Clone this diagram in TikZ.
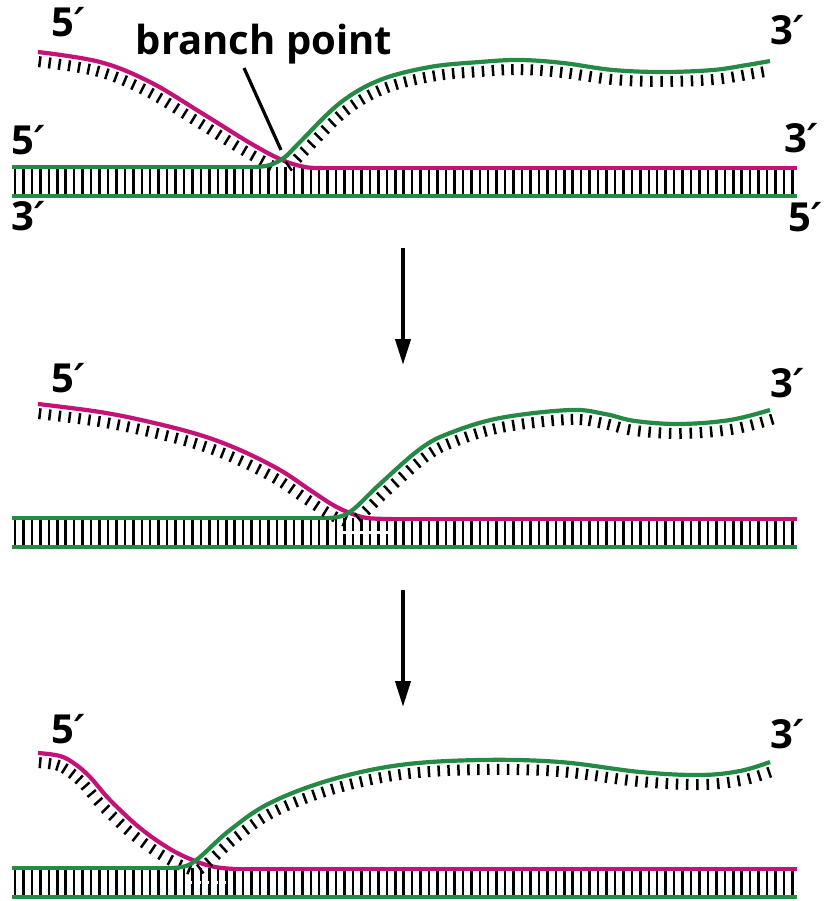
\documentclass[tikz,border=0pt]{standalone}
\usepackage{fontspec}
\setmainfont{Open Sans}
\newfontfamily\primefont{DejaVu Sans}
\usepackage{tikz}
\usetikzlibrary{arrows.meta}
\usetikzlibrary{decorations.markings}
\definecolor{strandgreen}{RGB}{36,138,70}
\definecolor{strandpink}{RGB}{196,18,120}
\newcommand{\pr}{{\primefont\itshape ′}}

\begin{document}
\begin{tikzpicture}
[x=1pt,y=-1pt,
  greendecorate/.style={draw=strandgreen,line width=4.2pt},
  pinkdecorate/.style={draw=strandpink,line width=4.2pt},
  rungdecorate/.style={black,line width=2.5pt},
  tickdecorate/.style 2 args={postaction={decorate},decoration={markings,
    mark=between positions #1 and #2 step 10pt with
    {\draw[black,line width=2.5pt] (0,-4pt) -- (0,-15pt);}}},
  labeldecorate/.style={font=\fontsize{40}{44}\selectfont\bfseries,
    inner sep=0pt},
  arrowdecorate/.style={line width=4pt,-{Triangle[length=26pt,width=15pt]}}]
\useasboundingbox (0,0) rectangle (825,901);

%% double helix parts: rungs, bottom strand, top strand halves
\foreach \top/\bot/\gx/\px in {167/196/255/322, 518/547/328/392, 868/897/172/235}
{
  \foreach \i in {0,...,92}
    \draw[rungdecorate] ({15+8.45*\i},\top) -- ({15+8.45*\i},\bot);
  \draw[white,line width=3.5pt,dash pattern=on 5pt off 3.5pt]
    ({\gx+15},{(\top+\bot)/2}) -- ({\px-4},{(\top+\bot)/2});
  \draw[greendecorate] (12,\bot) -- (797,\bot);
  \draw[greendecorate] (12,\top) -- (\gx,\top);
  \draw[pinkdecorate] (\px,\top+1) -- (797,\top+1);
}

%% invading strands (pink) with their bases
\draw[pinkdecorate,tickdecorate={3pt}{-40pt}] plot[smooth,tension=0.6] coordinates
  {(38,52) (100,62) (150,82) (200,112) (250,143) (282,160) (305,167) (322,168)};
\draw[pinkdecorate,tickdecorate={3pt}{-36pt}] plot[smooth,tension=0.6] coordinates
  {(38,404) (100,412) (150,422) (200,435) (240,450) (280,470) (310,490)
   (333,505) (350,513) (367,518) (392,519)};
\draw[pinkdecorate,tickdecorate={3pt}{-40pt}] plot[smooth,tension=0.6] coordinates
  {(38,753) (60,756) (75,764) (90,777) (110,800) (140,828) (170,849)
   (195,861) (215,867) (235,869)};

%% displaced strands (green) with their bases
\draw[greendecorate,tickdecorate={30pt}{-1pt}] plot[smooth,tension=0.6] coordinates
  {(255,167) (270,165) (285,157) (300,142) (340,103) (380,80) (430,67)
   (480,62) (520,60) (563,63) (613,70) (663,72) (713,70) (747,65) (770,61)};
\draw[greendecorate,tickdecorate={26pt}{-1pt}] plot[smooth,tension=0.6] coordinates
  {(328,518) (342,516) (355,508) (380,484) (420,449) (450,433) (500,418)
   (570,410) (605,414) (635,421) (680,424) (730,420) (770,410)};
\draw[greendecorate,tickdecorate={24pt}{-1pt}] plot[smooth,tension=0.6] coordinates
  {(172,868) (186,866) (200,857) (230,830) (270,803) (330,780) (400,765)
   (480,760) (560,762) (640,772) (700,775) (740,771) (770,762)};

%% end labels
\foreach \nodename/\x/\y/\side/\txt in {fiveA/51/37/base west/5,
  threeA/804/45/base east/3, fiveB/11/155/base west/5,
  threeB/818/153/base east/3, threeC/11/230/base west/3,
  fiveC/822/232/base east/5, fiveD/51/392/base west/5,
  threeD/804/397/base east/3, fiveE/51/743/base west/5,
  threeE/804/748/base east/3}
{
  \node[labeldecorate,anchor=\side] (\nodename) at (\x,\y) {\txt\pr};
}

%% branch point label and pointer
\node[labeldecorate,anchor=base] (bplabel) at (264,55) {branch point};
\coordinate (bptail) at (244,68);
\coordinate (bphead) at (281,150);
\draw[line width=3.2pt] (bptail) -- (bphead);

%% steps
\coordinate (stepAtop) at (403,248);
\coordinate (stepAbot) at (403,365);
\coordinate (stepBtop) at (403,590);
\coordinate (stepBbot) at (403,707);
\draw[arrowdecorate] (stepAtop) -- (stepAbot);
\draw[arrowdecorate] (stepBtop) -- (stepBbot);
\end{tikzpicture}
\end{document}
